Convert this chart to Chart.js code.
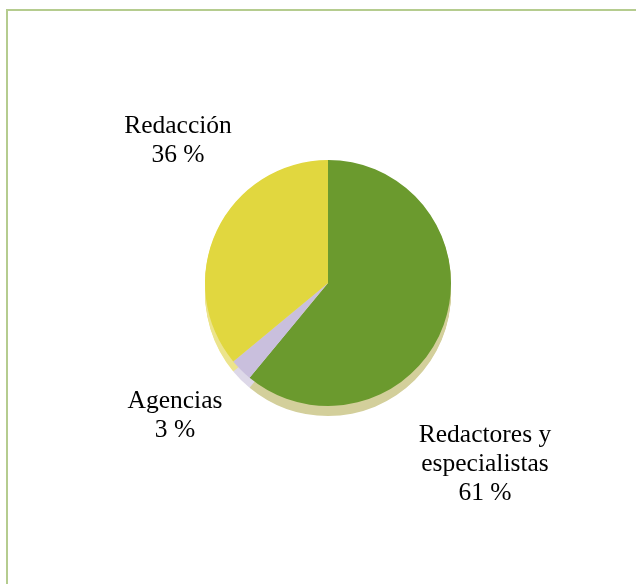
<!DOCTYPE html>
<html>
<head>
<meta charset="utf-8">
<script src="https://cdn.jsdelivr.net/npm/chart.js@4/dist/chart.umd.min.js"></script>
<style>
  html, body { margin: 0; padding: 0; background: #ffffff; }
  #wrap { position: relative; width: 636px; height: 584px; overflow: hidden; }
  #frame { position: absolute; left: 6px; top: 9px; width: 700px; height: 700px;
           border-left: 2px solid #B5CC8F; border-top: 2px solid #B5CC8F; box-sizing: border-box; }
  canvas { position: absolute; left: 0; top: 0; }
</style>
</head>
<body>
<div id="wrap">
  <div id="frame"></div>
  <canvas id="c" width="636" height="584"></canvas>
</div>
<script>
const categories = ['Redactores y especialistas', 'Agencias', 'Redacción'];
const values = [61, 3, 36];
const labelLines = [['Redactores y', 'especialistas', '61 %'], ['Agencias', '3 %'], ['Redacción', '36 %']];
const topColors = ['#6B9A2E', '#C9BFDD', '#E1D73F'];
const sideColors = ['#D3CF9B', '#DDD8E8', '#ECE48C'];

// label anchor offsets (relative to pie centre) for first line, in px
const labelOffsets = [[157, 152], [-153, 118], [-150, -157]];
const lineHeight = 29;
const depth = 10;

const sidePlugin = {
  id: 'side3d',
  beforeDatasetsDraw(chart) {
    const ctx = chart.ctx;
    const meta = chart.getDatasetMeta(0);
    meta.data.forEach((arc, i) => {
      const p = arc.getProps(['x', 'y', 'startAngle', 'endAngle', 'outerRadius'], true);
      ctx.save();
      ctx.fillStyle = sideColors[i];
      for (let d = 1; d <= depth; d++) {
        ctx.beginPath();
        ctx.moveTo(p.x, p.y + d);
        ctx.arc(p.x, p.y + d, p.outerRadius, p.startAngle, p.endAngle);
        ctx.closePath();
        ctx.fill();
      }
      ctx.restore();
    });
  },
  afterDatasetsDraw(chart) {
    const ctx = chart.ctx;
    const meta = chart.getDatasetMeta(0);
    const arc0 = meta.data[0];
    const cx = arc0.x, cy = arc0.y;
    ctx.save();
    ctx.fillStyle = '#000000';
    ctx.font = '25.5px "Liberation Serif", "DejaVu Serif", serif';
    ctx.textAlign = 'center';
    ctx.textBaseline = 'middle';
    labelLines.forEach((lines, i) => {
      const [ox, oy] = labelOffsets[i];
      lines.forEach((t, k) => {
        ctx.fillText(t, cx + ox, cy + oy + k * lineHeight);
      });
    });
    ctx.restore();
  }
};

new Chart(document.getElementById('c'), {
  type: 'pie',
  data: {
    labels: categories,
    datasets: [{
      data: values,
      backgroundColor: topColors,
      borderWidth: 0
    }]
  },
  options: {
    responsive: false,
    animation: false,
    layout: { padding: { left: 205, right: 185, top: 160, bottom: 178 } },
    plugins: { legend: { display: false }, tooltip: { enabled: false } }
  },
  plugins: [sidePlugin]
});
</script>
</body>
</html>
